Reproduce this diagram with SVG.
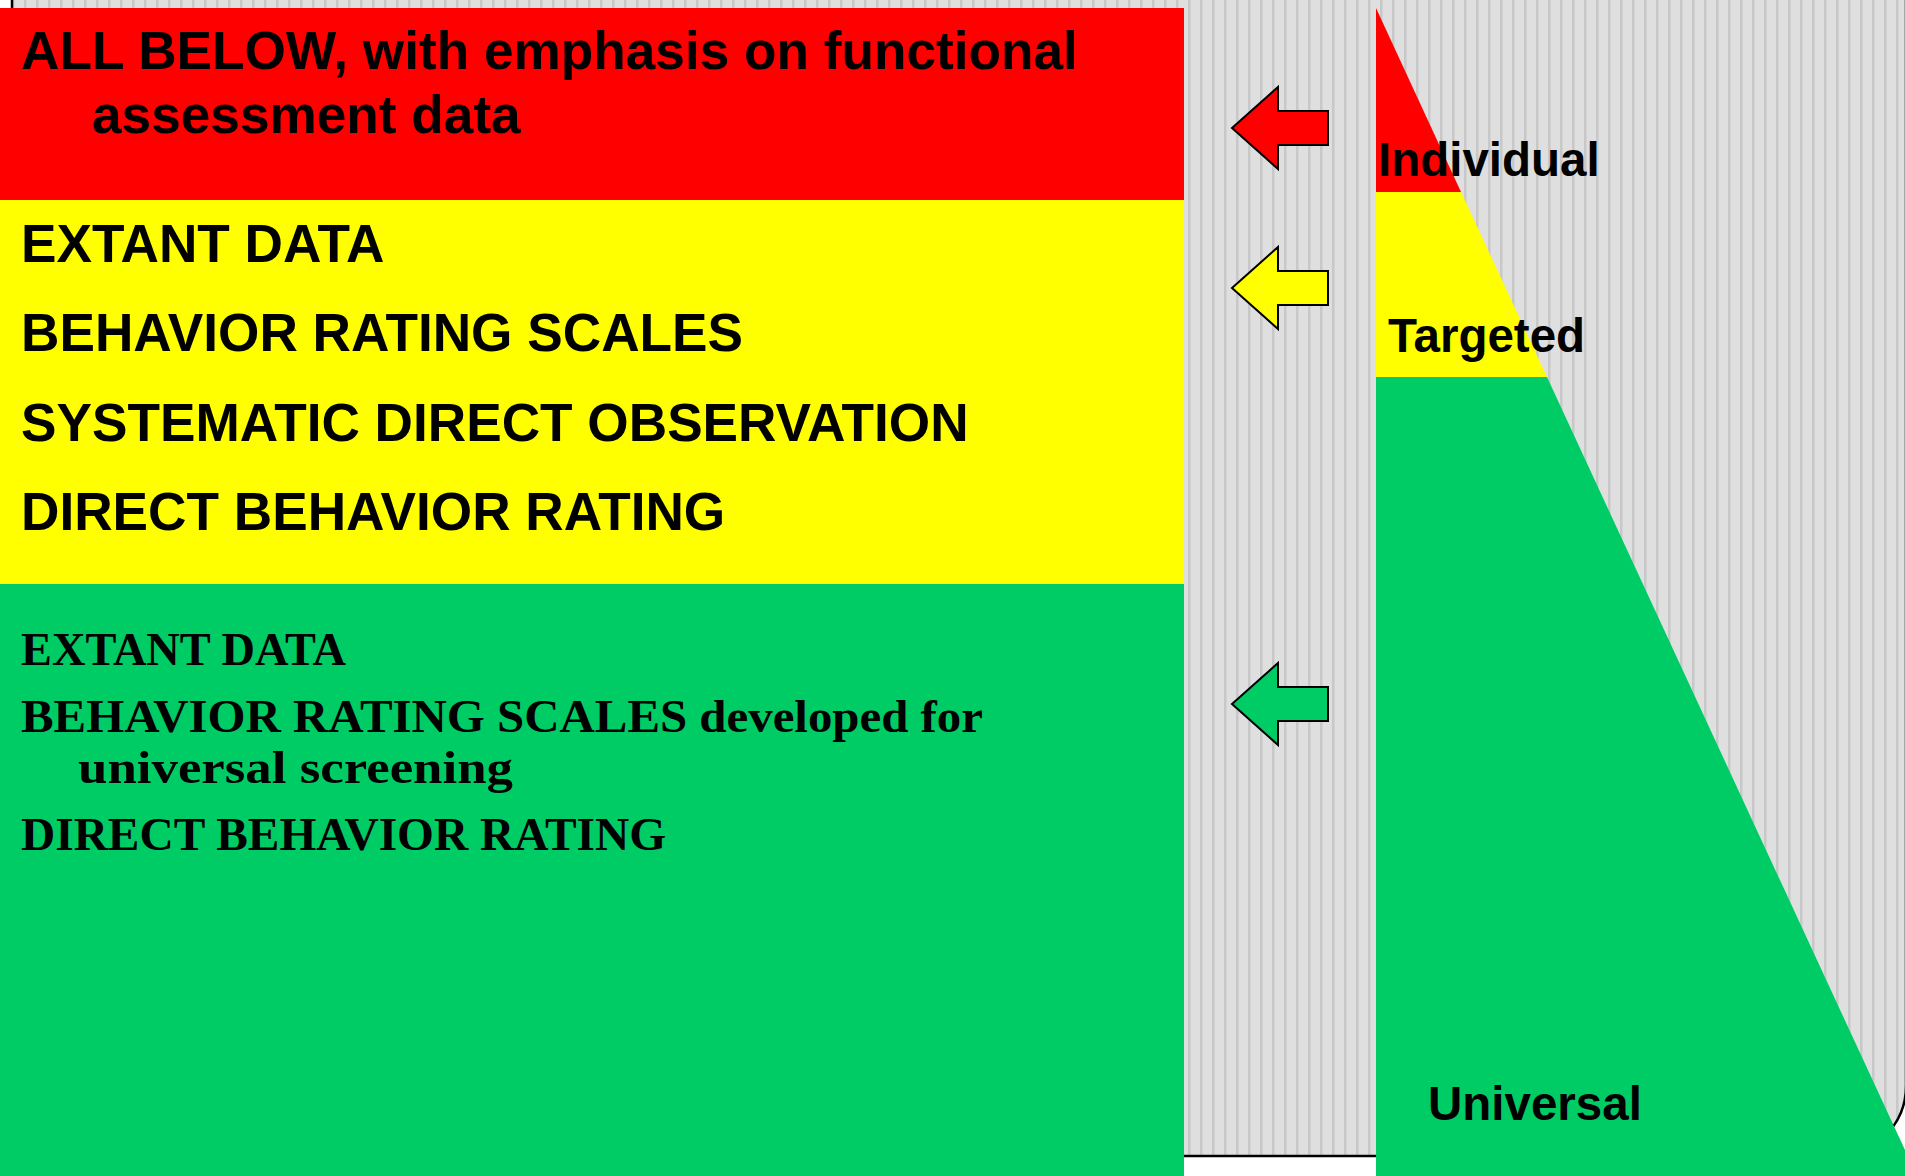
<svg xmlns="http://www.w3.org/2000/svg" width="1905" height="1176" viewBox="0 0 1905 1176">
  <style>
    .sans { font-family: "Liberation Sans", Arial, sans-serif; font-weight: bold; fill: #000; }
    .band { font-size: 53.2px; }
    .tier { font-size: 47.5px; }
    .serif { font-family: "Liberation Serif", "Times New Roman", serif; font-weight: bold; font-size: 46px; fill: #000; }
    .arrow { stroke: #000; stroke-width: 2; stroke-linejoin: miter; }
  </style>
  <defs>
    <pattern id="stripes" patternUnits="userSpaceOnUse" x="0" y="0" width="12" height="12">
      <rect x="0" y="0" width="12" height="12" fill="#dfdfdf"/>
      <rect x="0" y="0" width="2.5" height="12" fill="#c8c8c8"/>
    </pattern>
    <path id="arrowShape" d="M0,0 L46,-41 L46,-17 L96,-17 L96,17 L46,17 L46,41 Z"/>
  </defs>

  <rect x="0" y="0" width="1905" height="1176" fill="#ffffff"/>

  <g id="background">
    <rect x="12" y="-200" width="1894" height="1356" rx="70" ry="70" fill="url(#stripes)" stroke="#000" stroke-width="2.5"/>
  </g>

  <g id="band-individual">
    <rect x="0" y="8" width="1184" height="192" fill="#ff0000"/>
    <text class="sans band" x="21" y="69">ALL BELOW, with emphasis on functional</text>
    <text class="sans band" x="92" y="133">assessment data</text>
  </g>

  <g id="band-targeted">
    <rect x="0" y="200" width="1184" height="384" fill="#ffff00"/>
    <text class="sans band" x="21" y="262">EXTANT DATA</text>
    <text class="sans band" x="21" y="351">BEHAVIOR RATING SCALES</text>
    <text class="sans band" x="21" y="441">SYSTEMATIC DIRECT OBSERVATION</text>
    <text class="sans band" x="21" y="530">DIRECT BEHAVIOR RATING</text>
  </g>

  <g id="band-universal">
    <rect x="0" y="584" width="1184" height="592" fill="#00cc66"/>
    <text class="serif" x="21" y="665" textLength="325" lengthAdjust="spacingAndGlyphs">EXTANT DATA</text>
    <text class="serif" x="21" y="732" textLength="962" lengthAdjust="spacingAndGlyphs">BEHAVIOR RATING SCALES developed for</text>
    <text class="serif" x="78" y="783" textLength="435" lengthAdjust="spacingAndGlyphs">universal screening</text>
    <text class="serif" x="21" y="850" textLength="645" lengthAdjust="spacingAndGlyphs">DIRECT BEHAVIOR RATING</text>
  </g>

  <g id="pyramid">
    <g id="tier-individual">
      <polygon points="1376,8 1461,192 1376,192" fill="#ff0000"/>
    </g>
    <g id="tier-targeted">
      <polygon points="1376,192 1461,192 1547,377 1376,377" fill="#ffff00"/>
    </g>
    <g id="tier-universal">
      <polygon points="1376,377 1547,377 1917,1176 1376,1176" fill="#00cc66"/>
    </g>
    <text class="sans tier" x="1378" y="176">Individual</text>
    <text class="sans tier" x="1388" y="352">Targeted</text>
    <text class="sans tier" x="1428" y="1120">Universal</text>
  </g>

  <g id="connectors">
    <use href="#arrowShape" x="1232" y="128" fill="#ff0000" class="arrow"/>
    <use href="#arrowShape" x="1232" y="288" fill="#ffff00" class="arrow"/>
    <use href="#arrowShape" x="1232" y="704" fill="#00cc66" class="arrow"/>
  </g>
</svg>
